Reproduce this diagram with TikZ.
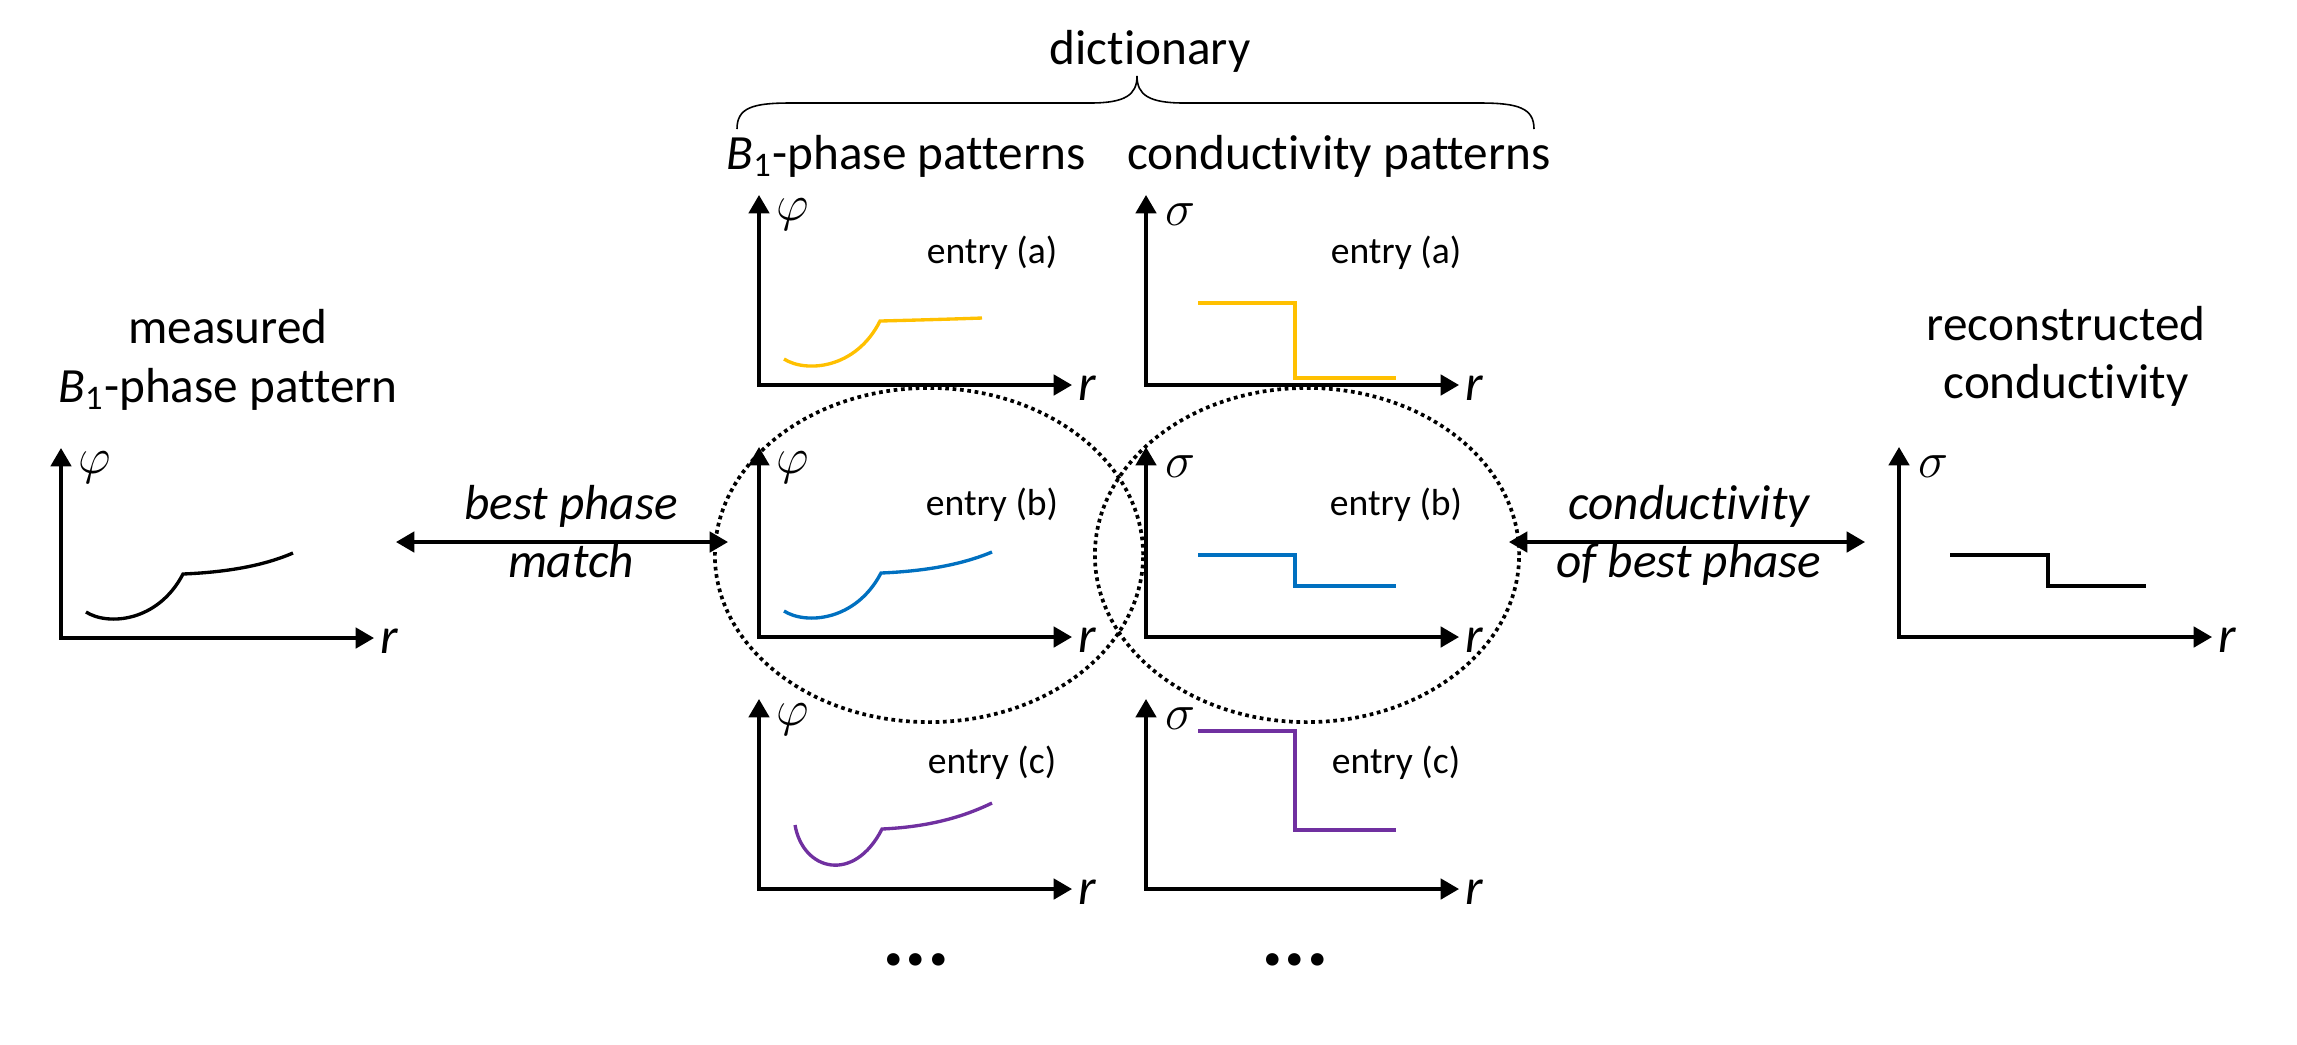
\documentclass[tikz,border=0pt]{standalone}
\usepackage{fontspec}
\setmainfont[Ligatures=NoCommon]{Carlito}
\usetikzlibrary{arrows.meta,shapes.geometric}
\definecolor{cgold}{HTML}{FFC000}
\definecolor{cblue}{HTML}{0070C0}
\definecolor{cpurple}{HTML}{7030A0}
\tikzset{
 tipA/.tip={Triangle[length=5.2pt,width=5.8pt]},
 axisline/.style={line width=0.95pt, line join=miter, tipA-tipA},
 dblarrow/.style={line width=0.95pt, tipA-tipA},
 curve/.style={line width=0.95pt},
 stepline/.style={line width=0.95pt, line join=miter},
 title/.style={font=\fontsize{14}{16}\selectfont, anchor=base, inner sep=0},
 ititle/.style={font=\fontsize{14}{16}\selectfont\itshape, anchor=base, inner sep=0},
 axlab/.style={font=\fontsize{14.4}{17}\selectfont, inner sep=0},
 rlab/.style={font=\fontsize{14.5}{17}\selectfont\itshape, inner sep=0},
 entrylab/.style={font=\fontsize{10.7}{12}\selectfont, inner sep=0},
 dotring/.style={draw, ellipse, line width=1.05pt, dash pattern=on 1.05pt off 1.05pt, inner sep=0},
 bracel/.style={line width=0.45pt},
 pics/axes/.style={code={
   \draw[axisline] (0,-190) |- (313,0);
   \node[axlab] (-y) at (34,-170) {$#1$};
   \node[rlab] (-x) at (328,3) {r};
 }},
}
\begin{document}
\begin{tikzpicture}[x=0.01cm,y=-0.01cm]
\useasboundingbox (0,0) rectangle (2297,1044);

% titles
\node[title] (dict) at (1150,64) {dictionary};
\draw[bracel] (737,129) .. controls (737,108) and (752,103) .. (790,103) -- (1090,103)
  .. controls (1125,103) and (1137,95) .. (1137,76)
  .. controls (1137,95) and (1149,103) .. (1184,103) -- (1480,103)
  .. controls (1518,103) and (1534,108) .. (1534,129);
\node[title] (phpat) at (906,169) {{\itshape B}\textsubscript{1}-phase patterns};
\node[title] (condpat) at (1339,169) {conductivity patterns};
\node[title] (meas1) at (228,343) {measured};
\node[title] (meas2) at (228,402) {{\itshape B}\textsubscript{1}-phase pattern};
\node[title] (rec1) at (2066,340) {reconstructed};
\node[title] (rec2) at (2066,398) {conductivity};

% left measured panel
\pic (pm) at (61,638) {axes=\varphi};
\begin{scope}[shift={(61,638)}]
\draw[curve] (25,-26) .. controls (47,-12) and (97,-16) .. (122,-64)
  .. controls (169,-66) and (204,-73) .. (232,-85);
\end{scope}

% dictionary phase column
\pic (pa) at (759,385) {axes=\varphi};
\pic (pb) at (759,637) {axes=\varphi};
\pic (pc) at (759,889) {axes=\varphi};
\begin{scope}[shift={(759,385)}]
\draw[curve,cgold] (25,-26) .. controls (47,-12) and (97,-16) .. (121,-64)
  .. controls (160,-65) and (195,-66) .. (223,-67);
\node[entrylab] (ea1) at (233,-132) {entry (a)};
\end{scope}
\begin{scope}[shift={(759,637)}]
\draw[curve,cblue] (25,-26) .. controls (47,-12) and (97,-16) .. (122,-64)
  .. controls (169,-66) and (204,-73) .. (233,-85);
\node[entrylab] (eb1) at (233,-132) {entry (b)};
\end{scope}
\begin{scope}[shift={(759,889)}]
\draw[curve,cpurple] (36,-64) .. controls (44,-18) and (95,-5) .. (123,-60)
  .. controls (165,-62) and (200,-70) .. (233,-86);
\node[entrylab] (ec1) at (233,-126) {entry (c)};
\end{scope}

% dictionary conductivity column
\pic (sa) at (1146,385) {axes=\sigma};
\pic (sb) at (1146,637) {axes=\sigma};
\pic (sc) at (1146,889) {axes=\sigma};
\begin{scope}[shift={(1146,385)}]
\draw[stepline,cgold] (52,-82) -- (149,-82) -- (149,-7) -- (250,-7);
\node[entrylab] (ea2) at (250,-132) {entry (a)};
\end{scope}
\begin{scope}[shift={(1146,637)}]
\draw[stepline,cblue] (52,-82) -- (149,-82) -- (149,-51) -- (250,-51);
\node[entrylab] (eb2) at (250,-132) {entry (b)};
\end{scope}
\begin{scope}[shift={(1146,889)}]
\draw[stepline,cpurple] (52,-158) -- (149,-158) -- (149,-59) -- (250,-59);
\node[entrylab] (ec2) at (250,-126) {entry (c)};
\end{scope}

% right reconstructed panel
\pic (pr) at (1899,637) {axes=\sigma};
\begin{scope}[shift={(1899,637)}]
\draw[stepline] (51,-82) -- (149,-82) -- (149,-51) -- (247,-51);
\end{scope}

% dots
\node[font=\fontsize{24}{26}\selectfont\bfseries, inner sep=0] (dots1) at (916,960) {...};
\node[font=\fontsize{24}{26}\selectfont\bfseries, inner sep=0] (dots2) at (1295,960) {...};

% dotted rings
\node[dotring, minimum width=4.28cm, minimum height=3.34cm] (lefte) at (929,555) {};
\node[dotring, minimum width=4.24cm, minimum height=3.34cm] (righte) at (1307,555) {};

% arrows
\coordinate (bpa) at (396,542);
\coordinate (bpb) at (728,542);
\draw[dblarrow] (bpa) -- (bpb);
\node[ititle] (bp1) at (571,519) {best phase};
\node[ititle] (bp2) at (571,577) {match};
\coordinate (cba) at (1509,542);
\coordinate (cbb) at (1865,542);
\draw[dblarrow] (cba) -- (cbb);
\node[ititle] (cb1) at (1689,519) {conductivity};
\node[ititle] (cb2) at (1689,577) {of best phase};
\end{tikzpicture}
\end{document}
